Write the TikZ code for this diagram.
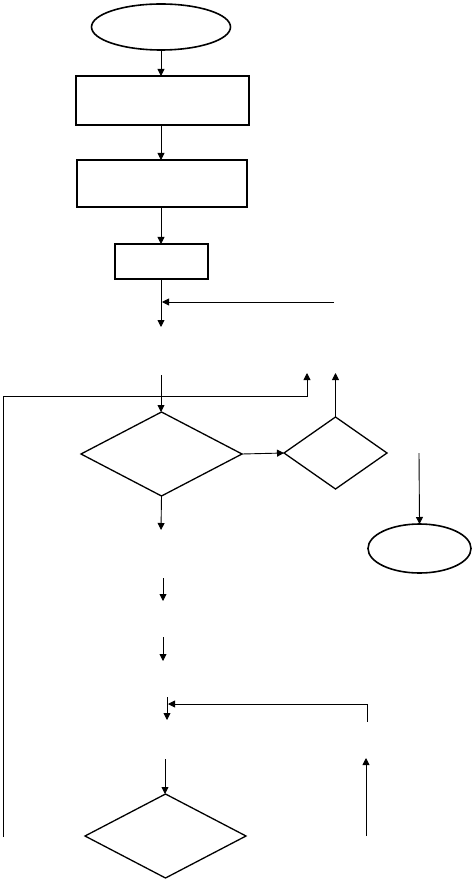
\documentclass[tikz,border=0pt]{standalone}
\usetikzlibrary{shapes.geometric,arrows.meta}
\begin{document}
\begin{tikzpicture}[x=1pt,y=-1pt,
  conn/.style={line width=0.9pt,-{Triangle[length=7pt,width=7pt]}},
  plain/.style={line width=0.9pt},
  boxshape/.style={draw,line width=1.6pt,rectangle,inner sep=0pt,outer sep=0pt},
  term/.style={draw,line width=1.6pt,ellipse,inner sep=0pt,outer sep=0pt},
  decis/.style={draw,line width=1.3pt,diamond,inner sep=0pt,outer sep=0pt}]
\useasboundingbox (0,0) rectangle (474,882);
% nodes
\node[term,minimum width=139pt,minimum height=46pt] (start) at (161,27) {};
\node[boxshape,minimum width=173pt,minimum height=49pt] (b1) at (162.5,100.5) {};
\node[boxshape,minimum width=170pt,minimum height=47pt] (b2) at (162,183.5) {};
\node[boxshape,minimum width=93pt,minimum height=35pt] (b3) at (161.5,261.5) {};
\node[decis,minimum width=161pt,minimum height=84pt] (d1) at (161.5,454) {};
\node[decis,minimum width=103pt,minimum height=72pt] (d2) at (335.5,453) {};
\node[term,minimum width=103pt,minimum height=49pt] (stop) at (419.5,548.5) {};
\node[decis,minimum width=161pt,minimum height=84pt] (d3) at (165.5,836) {};
% free ends
\coordinate (b3tip) at (161,327);
\coordinate (jsrc) at (334,302);
\coordinate (jtip) at (162,302);
\coordinate (d1src) at (161,375);
\coordinate (lbot) at (3,837);
\coordinate (lcorner) at (307,396);
\coordinate (ltip) at (307,373);
\coordinate (d2tip) at (335.5,373);
\coordinate (stopsrc) at (419,453);
\coordinate (d1tip) at (161,530);
\coordinate (a1s) at (163,578);
\coordinate (a1t) at (163,601);
\coordinate (a2s) at (163,637);
\coordinate (a2t) at (163,661);
\coordinate (a3s) at (167,697);
\coordinate (a3t) at (167,720);
\coordinate (hsrc) at (367,704);
\coordinate (htip) at (168,704);
\coordinate (hbot) at (367,722);
\coordinate (a4s) at (165,759);
\coordinate (ups) at (366,836);
\coordinate (upt) at (366,758);
% connectors
\draw[conn] (start.south) -- (start.south |- b1.north);
\draw[conn] (start.south |- b1.south) -- (start.south |- b2.north);
\draw[conn] (start.south |- b2.south) -- (start.south |- b3.north);
\draw[conn] (start.south |- b3.south) -- (b3tip);
\draw[conn] (jsrc) -- (jtip);
\draw[conn] (d1src) -- (d1src |- d1.north);
\draw[conn] (lbot) |- (lcorner) -- (ltip);
\draw[conn] (d2.north) -- (d2tip);
\draw[conn] (d1.east) -- (d2.west);
\draw[conn] (stopsrc) -- (stop.north);
\draw[conn] (d1.south) -- (d1tip);
\draw[conn] (a1s) -- (a1t);
\draw[conn] (a2s) -- (a2t);
\draw[conn] (a3s) -- (a3t);
\draw[conn] (hsrc) -- (htip);
\draw[plain] (hsrc) -- (hbot);
\draw[conn] (a4s) -- (a4s |- d3.north);
\draw[conn] (ups) -- (upt);
\end{tikzpicture}
\end{document}
